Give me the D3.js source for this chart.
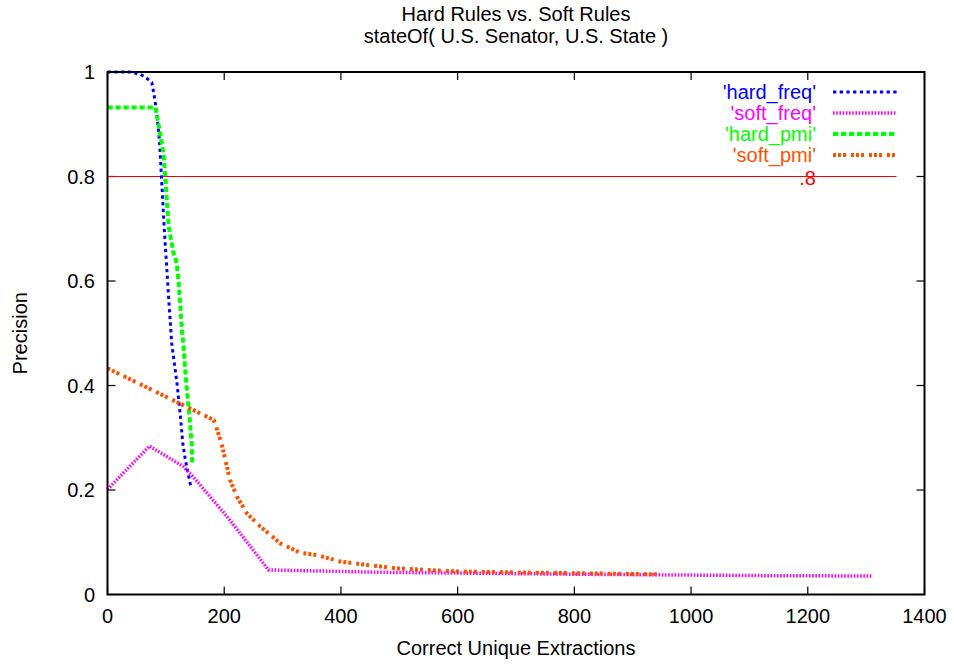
<!DOCTYPE html>
<html>
<head>
<meta charset="utf-8">
<script src="https://cdn.jsdelivr.net/npm/d3@7"></script>
<style>
  body { margin: 0; background: #fff; }
  text { font-family: "Liberation Sans", Arial, sans-serif; }
</style>
</head>
<body>
<div id="chart"></div>
<script>
const hardFreqX = [0, 20, 40, 57, 65, 76, 80, 84, 89, 92, 94, 97, 100, 105, 110, 119, 125, 129, 133, 143];
const hardFreqY = [1, 1, 1, 0.995, 0.99, 0.98, 0.955, 0.925, 0.87, 0.81, 0.768, 0.704, 0.652, 0.564, 0.481, 0.405, 0.34, 0.29, 0.26, 0.205];

const softFreqX = [0, 72, 130, 147, 205, 276, 467, 810, 1136, 1310];
const softFreqY = [0.201, 0.284, 0.245, 0.225, 0.149, 0.047, 0.0425, 0.0387, 0.036, 0.0354];

const hardPmiX = [0, 82, 84, 90, 96, 99, 102, 105, 113, 116, 119, 122, 128, 130, 135, 140.5, 144.6, 145];
const hardPmiY = [0.932, 0.932, 0.921, 0.883, 0.844, 0.80, 0.749, 0.704, 0.653, 0.646, 0.63, 0.596, 0.50, 0.481, 0.404, 0.34, 0.283, 0.248];

const softPmiX = [0, 182, 188, 196, 210, 222, 239, 262, 296, 330, 359, 399, 445, 496, 600, 810, 944];
const softPmiY = [0.433, 0.334, 0.315, 0.286, 0.219, 0.187, 0.155, 0.13, 0.098, 0.080, 0.0756, 0.063, 0.0565, 0.050, 0.044, 0.0406, 0.0387];

const refValue = 0.8;
const refLabel = ".8";
const refEndX = 1352;

const xTicks = [0, 200, 400, 600, 800, 1000, 1200, 1400];
const yTicks = [0, 0.2, 0.4, 0.6, 0.8, 1];
const yTickLabels = ["0", "0.2", "0.4", "0.6", "0.8", "1"];

const titleLines = ["Hard Rules vs. Soft Rules", "stateOf( U.S. Senator, U.S. State )"];
const xLabel = "Correct Unique Extractions";
const yLabel = "Precision";

const series = [
  {name: "'hard_freq'", xs: hardFreqX, ys: hardFreqY, color: "#0000ff", width: 3, dash: "3.3,3.4"},
  {name: "'soft_freq'", xs: softFreqX, ys: softFreqY, color: "#ff00ff", width: 3.5, dash: "1.6,1.6"},
  {name: "'hard_pmi'", xs: hardPmiX, ys: hardPmiY, color: "#00ff00", width: 4, dash: "5.3,2.7"},
  {name: "'soft_pmi'", xs: softPmiX, ys: softPmiY, color: "#ff5000", width: 4, dash: "3,2,3,2,3,5"}
];

const W = 954, H = 664;
const plotL = 107.5, plotR = 924.5, plotT = 72, plotB = 594.5;
const fs = 20;

const svg = d3.select("#chart").append("svg")
  .attr("width", W).attr("height", H);

const x = d3.scaleLinear().domain([0, 1400]).range([plotL, plotR]);
const y = d3.scaleLinear().domain([0, 1]).range([plotB, plotT]);

// ticks (inward, mirrored)
const tickLen = 8;
const axes = svg.append("g").attr("stroke", "#000").attr("stroke-width", 1.2);
xTicks.forEach(t => {
  axes.append("line").attr("x1", x(t)).attr("x2", x(t)).attr("y1", plotB).attr("y2", plotB - tickLen);
  axes.append("line").attr("x1", x(t)).attr("x2", x(t)).attr("y1", plotT).attr("y2", plotT + tickLen);
});
yTicks.forEach(t => {
  axes.append("line").attr("x1", plotL).attr("x2", plotL + tickLen).attr("y1", y(t)).attr("y2", y(t));
  axes.append("line").attr("x1", plotR).attr("x2", plotR - tickLen).attr("y1", y(t)).attr("y2", y(t));
});

svg.selectAll(".xt").data(xTicks).enter().append("text")
  .attr("x", d => x(d)).attr("y", 623)
  .attr("text-anchor", "middle").attr("font-size", fs)
  .text(d => d);

svg.selectAll(".yt").data(yTicks).enter().append("text")
  .attr("x", 95).attr("y", d => y(d) + 7)
  .attr("text-anchor", "end").attr("font-size", fs)
  .text((d, i) => yTickLabels[i]);

// reference line
svg.append("line")
  .attr("x1", x(0)).attr("x2", x(refEndX))
  .attr("y1", y(refValue)).attr("y2", y(refValue))
  .attr("stroke", "#ff0000").attr("stroke-width", 1.2);

// series
const line = d3.line().x(d => x(d[0])).y(d => y(d[1]));
series.forEach(s => {
  const pts = s.xs.map((v, i) => [v, s.ys[i]]);
  svg.append("path").datum(pts)
    .attr("d", line)
    .attr("fill", "none")
    .attr("stroke", s.color)
    .attr("stroke-width", s.width)
    .attr("stroke-dasharray", s.dash);
});

// legend
const legY = [92, 113, 134, 155];
series.forEach((s, i) => {
  svg.append("text")
    .attr("x", 816).attr("y", legY[i] + 7)
    .attr("text-anchor", "end").attr("font-size", fs)
    .attr("fill", s.color)
    .text(s.name);
  svg.append("line")
    .attr("x1", 833).attr("x2", 897)
    .attr("y1", legY[i]).attr("y2", legY[i])
    .attr("stroke", s.color).attr("stroke-width", s.width)
    .attr("stroke-dasharray", s.dash);
});
svg.append("text")
  .attr("x", 816).attr("y", y(refValue) + 8.5)
  .attr("text-anchor", "end").attr("font-size", fs)
  .attr("fill", "#ff0000")
  .text(refLabel);

// frame
svg.append("rect")
  .attr("x", plotL).attr("y", plotT)
  .attr("width", plotR - plotL).attr("height", plotB - plotT)
  .attr("fill", "none").attr("stroke", "#000").attr("stroke-width", 2);

// titles
titleLines.forEach((t, i) => {
  svg.append("text")
    .attr("x", (plotL + plotR) / 2).attr("y", 21 + i * 22)
    .attr("text-anchor", "middle").attr("font-size", fs)
    .text(t);
});

svg.append("text")
  .attr("x", (plotL + plotR) / 2).attr("y", 655)
  .attr("text-anchor", "middle").attr("font-size", fs)
  .text(xLabel);

svg.append("text")
  .attr("transform", `translate(27,${(plotT + plotB) / 2}) rotate(-90)`)
  .attr("text-anchor", "middle").attr("font-size", fs)
  .text(yLabel);
</script>
</body>
</html>
